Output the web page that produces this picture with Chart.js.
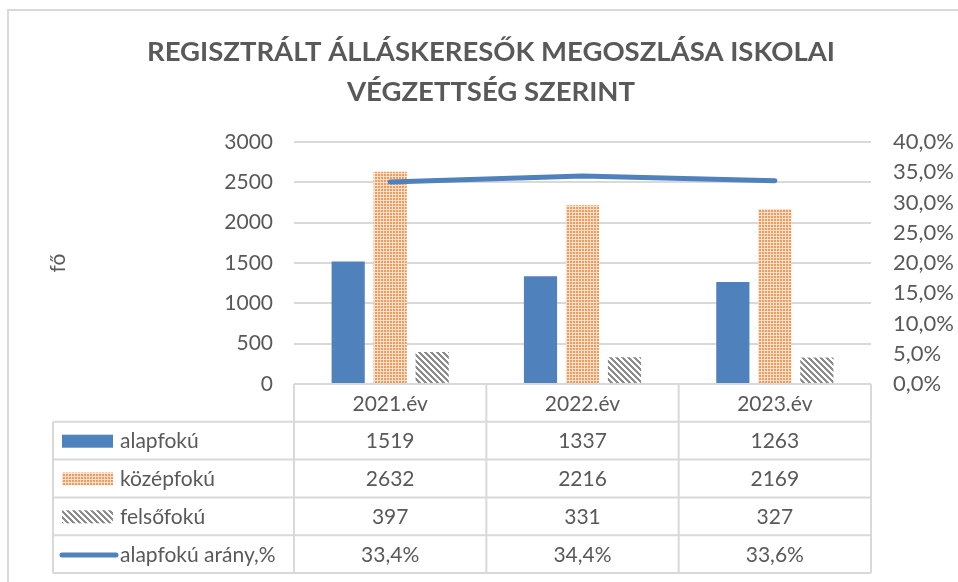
<!DOCTYPE html>
<html><head><meta charset="utf-8">
<script src="https://cdn.jsdelivr.net/npm/chart.js@4"></script>
<style>html,body{margin:0;padding:0;background:#fff;overflow:hidden}canvas{display:block}</style>
</head><body>
<canvas id="c" width="958" height="582" style="width:958px;height:582px"></canvas>
<script>
// ---- data ----
const titleLines = ['REGISZTRÁLT ÁLLÁSKERESŐK MEGOSZLÁSA ISKOLAI', 'VÉGZETTSÉG SZERINT'];
const categories = ['2021.év', '2022.év', '2023.év'];
const alapfoku = [1519, 1337, 1263];
const kozepfoku = [2632, 2216, 2169];
const felsofoku = [397, 331, 327];
const alapfokuArany = [33.4, 34.4, 33.6];
const seriesNames = ['alapfokú', 'középfokú', 'felsőfokú', 'alapfokú arány,%'];
const leftTicks = [0, 500, 1000, 1500, 2000, 2500, 3000];
const rightTicks = [0, 5, 10, 15, 20, 25, 30, 35, 40];
const yTitle = 'fő';

// ---- styles ----
const FONT = 'Lato, "Open Sans", sans-serif';
const TXT = '#595959';
const GRID = '#D9D9D9';
const BLUE = '#4F81BD';

function pct(v) { return v.toFixed(1).replace('.', ',') + '%'; }

function orangePattern(ctx) {
  const c = document.createElement('canvas'); c.width = 3; c.height = 3;
  const x = c.getContext('2d');
  x.fillStyle = '#FBE0CC'; x.fillRect(0, 0, 3, 3);
  x.fillStyle = '#F29A5C'; x.fillRect(0, 0, 2, 2);
  return ctx.createPattern(c, 'repeat');
}
function grayPattern(ctx) {
  const n = 6;
  const c = document.createElement('canvas'); c.width = n; c.height = n;
  const x = c.getContext('2d');
  x.fillStyle = '#fff'; x.fillRect(0, 0, n, n);
  x.fillStyle = '#8C8C8C';
  for (let i = 0; i < n; i++) for (let j = 0; j < n; j++) {
    if (((i - j) % n + n) % n < 3) x.fillRect(i, j, 1, 1);
  }
  return ctx.createPattern(c, 'repeat');
}

const canvas = document.getElementById('c');
const ctx0 = canvas.getContext('2d');
const PAT_O = orangePattern(ctx0);
const PAT_G = grayPattern(ctx0);

const tableRows = [
  { name: seriesNames[0], vals: alapfoku.map(String), key: 'rect', fill: BLUE },
  { name: seriesNames[1], vals: kozepfoku.map(String), key: 'rect', fill: PAT_O },
  { name: seriesNames[2], vals: felsofoku.map(String), key: 'rect', fill: PAT_G },
  { name: seriesNames[3], vals: alapfokuArany.map(pct), key: 'line', fill: BLUE }
];

const decor = {
  id: 'decor',
  beforeDraw(chart) {
    const ctx = chart.ctx;
    ctx.save();
    ctx.fillStyle = '#fff';
    ctx.fillRect(0, 0, chart.width, chart.height);
    // outer frame
    ctx.strokeStyle = GRID; ctx.lineWidth = 2;
    ctx.beginPath();
    ctx.moveTo(8, chart.height + 2); ctx.lineTo(8, 10); ctx.lineTo(chart.width + 2, 10);
    ctx.stroke();
    // title
    ctx.fillStyle = TXT;
    ctx.font = 'bold 27.5px ' + FONT;
    ctx.textAlign = 'center'; ctx.textBaseline = 'middle';
    titleLines.forEach((t, i) => ctx.fillText(t, 491, 52 + i * 40));
    ctx.restore();
  },
  afterDraw(chart) {
    const ctx = chart.ctx;
    const xs = chart.scales.x;
    const area = chart.chartArea;
    const colW = xs.width / categories.length;
    const tableLeft = 53;
    const rowH = 37.8;
    const top = area.bottom;
    const nRows = tableRows.length + 1;
    ctx.save();
    ctx.strokeStyle = GRID; ctx.lineWidth = 2;
    ctx.beginPath();
    ctx.moveTo(xs.left, top); ctx.lineTo(xs.right, top);
    for (let r = 1; r <= nRows; r++) {
      const y = top + r * rowH;
      ctx.moveTo(tableLeft, y); ctx.lineTo(xs.right, y);
    }
    ctx.moveTo(tableLeft, top + rowH); ctx.lineTo(tableLeft, top + nRows * rowH);
    for (let c = 0; c <= categories.length; c++) {
      const x = xs.left + c * colW;
      ctx.moveTo(x, top); ctx.lineTo(x, top + nRows * rowH);
    }
    ctx.stroke();

    ctx.fillStyle = TXT;
    ctx.font = '21px ' + FONT;
    ctx.textAlign = 'center'; ctx.textBaseline = 'middle';
    categories.forEach((c, i) => ctx.fillText(c, xs.getPixelForValue(i), top + rowH / 2 + 1));
    tableRows.forEach((row, r) => {
      const cy = top + (r + 1) * rowH + rowH / 2 + 1;
      row.vals.forEach((v, i) => {
        ctx.fillStyle = TXT;
        ctx.fillText(v, xs.getPixelForValue(i), cy);
      });
      if (row.key === 'rect') {
        ctx.fillStyle = row.fill;
        ctx.fillRect(62, cy - 7, 51, 13);
      } else {
        ctx.strokeStyle = row.fill; ctx.lineWidth = 5; ctx.lineCap = 'round';
        ctx.beginPath(); ctx.moveTo(62, cy); ctx.lineTo(116, cy); ctx.stroke();
      }
      ctx.fillStyle = TXT; ctx.textAlign = 'left';
      ctx.fillText(row.name, 120, cy);
      ctx.textAlign = 'center';
    });
    ctx.restore();
  }
};

new Chart(canvas, {
  data: {
    labels: categories,
    datasets: [
      { type: 'line', label: seriesNames[3], data: alapfokuArany, yAxisID: 'y1',
        borderColor: BLUE, borderWidth: 5, pointRadius: 0, borderCapStyle: 'round', tension: 0, order: 0 },
      { type: 'bar', label: seriesNames[0], data: alapfoku, yAxisID: 'y', backgroundColor: BLUE, order: 1 },
      { type: 'bar', label: seriesNames[1], data: kozepfoku, yAxisID: 'y', backgroundColor: PAT_O, order: 1 },
      { type: 'bar', label: seriesNames[2], data: felsofoku, yAxisID: 'y', backgroundColor: PAT_G, order: 1 }
    ]
  },
  options: {
    responsive: false,
    devicePixelRatio: 1,
    animation: false,
    events: [],
    datasets: { bar: { categoryPercentage: 0.655, barPercentage: 0.79 } },
    layout: { padding: { top: 142, bottom: 198, left: 0, right: 0 } },
    plugins: { legend: { display: false }, title: { display: false }, tooltip: { enabled: false } },
    scales: {
      x: { display: false, offset: true },
      y: {
        position: 'left', min: leftTicks[0], max: leftTicks[leftTicks.length - 1],
        afterFit(s) { s.width = 294; },
        afterBuildTicks(s) { s.ticks = leftTicks.map(v => ({ value: v })); },
        ticks: { color: TXT, font: { family: FONT, size: 21 }, padding: 21, callback: v => String(v) },
        grid: { color: GRID, lineWidth: 2, drawTicks: false },
        border: { display: false },
        title: { display: true, text: yTitle, color: TXT, font: { family: FONT, size: 21 }, padding: { top: 46, bottom: 0 } }
      },
      y1: {
        position: 'right', min: rightTicks[0], max: rightTicks[rightTicks.length - 1],
        afterFit(s) { s.width = 958 - 871; },
        afterBuildTicks(s) { s.ticks = rightTicks.map(v => ({ value: v })); },
        ticks: { color: TXT, font: { family: FONT, size: 22 }, padding: 22, callback: v => pct(v) },
        grid: { display: false, drawTicks: false },
        border: { display: false }
      }
    }
  },
  plugins: [decor]
});
</script>
</body></html>
